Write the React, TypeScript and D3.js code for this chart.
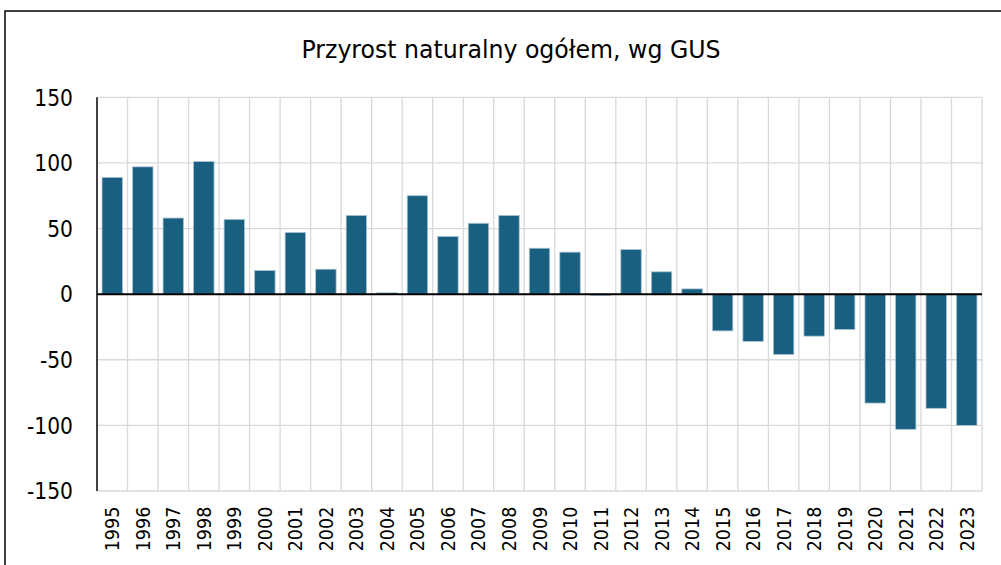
import React from "react";
import * as d3 from "d3";

const years = ["1995","1996","1997","1998","1999","2000","2001","2002","2003","2004","2005","2006","2007","2008","2009","2010","2011","2012","2013","2014","2015","2016","2017","2018","2019","2020","2021","2022","2023"];
const values = [89, 97, 58, 101, 57, 18, 47, 19, 60, 1, 75, 44, 54, 60, 35, 32, -1, 34, 17, 4, -28, -36, -46, -32, -27, -83, -103, -87, -100];
const yTicks = [150, 100, 50, 0, -50, -100, -150];
const title = "Przyrost naturalny ogółem, wg GUS";

export default function App() {
  const W = 1001, H = 565;
  const left = 97, right = 982, top = 97.3, bottom = 491;
  const x = d3.scaleBand().domain(years).range([left, right]).paddingInner(0.33).paddingOuter(0.165);
  const xb = d3.scaleBand().domain(years).range([left, right]);
  const y = d3.scaleLinear().domain([-150, 150]).range([bottom, top]);
  const font = "'DejaVu Sans Condensed', 'DejaVu Sans', sans-serif";
  return (
    <svg width={W} height={H} style={{ position: "absolute", left: 0, top: 0 }}>
      <rect x={0} y={0} width={W} height={H} fill="#fff" />
      <rect x={5} y={11} width={W + 10} height={H + 10} fill="none" stroke="#000" strokeWidth={1.5} />
      <text x={511} y={58.3} textAnchor="middle" fontFamily={font} fontStretch="condensed" fontSize={25} fill="#000"
        textLength={419} lengthAdjust="spacingAndGlyphs">{title}</text>
      {yTicks.filter(t => t !== 0).map(t => (
        <line key={"h" + t} x1={left} x2={right} y1={y(t)} y2={y(t)} stroke="#d9d9d9" strokeWidth={1.3} />
      ))}
      {years.map(yr => (
        <line key={"v" + yr} x1={(xb(yr) as number) + xb.bandwidth()} x2={(xb(yr) as number) + xb.bandwidth()} y1={top} y2={bottom} stroke="#d9d9d9" strokeWidth={1.3} />
      ))}
      {years.map((yr, i) => {
        const v = values[i];
        const y0 = y(0), y1 = y(v);
        return (
          <rect key={"b" + yr} x={x(yr)} width={x.bandwidth()} y={Math.min(y0, y1)} height={Math.abs(y1 - y0)}
            fill="#185f80" stroke="#a9c4d3" strokeWidth={0.8} />
        );
      })}
      <line x1={left} x2={left} y1={top} y2={bottom} stroke="#000" strokeWidth={1.5} />
      <line x1={left} x2={right} y1={y(0)} y2={y(0)} stroke="#000" strokeWidth={2} />
      {yTicks.map(t => (
        <text key={"yt" + t} x={73} y={y(t) + 8.2} textAnchor="end" fontFamily={font} fontStretch="condensed" fontSize={22.5} fill="#000">{t}</text>
      ))}
      {years.map(yr => {
        const cx = (xb(yr) as number) + xb.bandwidth() / 2;
        return (
          <text key={"xt" + yr} transform={`translate(${cx + 7},506.7) rotate(-90)`} textAnchor="end" fontFamily={font} fontStretch="condensed" fontSize={19.5} fill="#000">{yr}</text>
        );
      })}
    </svg>
  );
}
